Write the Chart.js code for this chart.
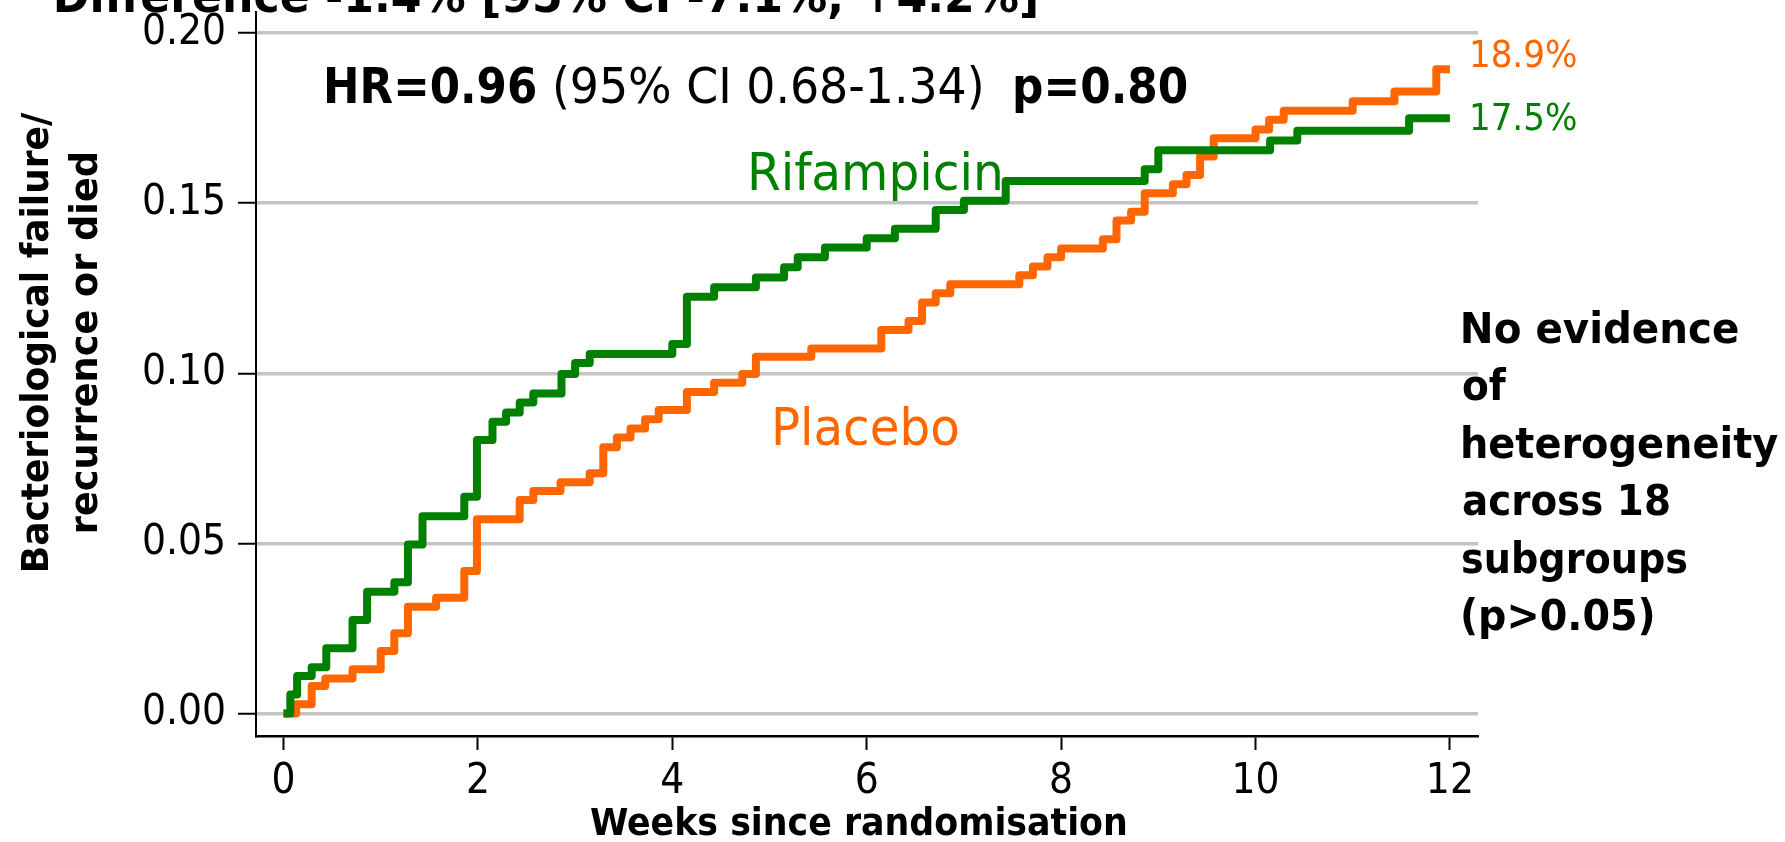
<!DOCTYPE html>
<html>
<head>
<meta charset="utf-8">
<title>Bacteriological failure by arm</title>
<script src="https://cdn.jsdelivr.net/npm/chart.js@4.4.1/dist/chart.umd.min.js"></script>
<style>
    html, body { margin: 0; padding: 0; background: #fff; }
    #wrap { width: 1785px; height: 842px; position: relative; }
</style>
</head>
<body>
<div id="wrap"><canvas id="kmChart"></canvas></div>
<script>
// Cumulative failure curves
const weekTicks = [0, 2, 4, 6, 8, 10, 12]
const riskTicks = [0, 0.05, 0.10, 0.15, 0.20]

const rifWeeks = [0, 0.07, 0.14, 0.29, 0.44, 0.71, 0.86, 1.14, 1.28, 1.43, 1.86, 1.99, 2.15, 2.29, 2.43, 2.57, 2.86, 3.0, 3.15, 4.0, 4.15, 4.43, 4.86, 5.15, 5.29, 5.57, 6.0, 6.29, 6.71, 7.0, 7.43, 8.86, 9.0, 10.15, 10.43, 11.58, 12]
const rifRisk = [0, 0.0056, 0.011, 0.0136, 0.0192, 0.0275, 0.0358, 0.0386, 0.0497, 0.058, 0.0637, 0.0804, 0.0858, 0.0885, 0.0914, 0.0941, 0.0998, 0.103, 0.1057, 0.1086, 0.1225, 0.1253, 0.1282, 0.1312, 0.1341, 0.137, 0.1397, 0.1425, 0.148, 0.1507, 0.1565, 0.16, 0.1656, 0.1684, 0.1713, 0.175, 0.175]

const placWeeks = [0, 0.13, 0.29, 0.43, 0.71, 1.0, 1.14, 1.28, 1.57, 1.86, 1.99, 2.43, 2.57, 2.85, 3.15, 3.29, 3.43, 3.57, 3.72, 3.86, 4.15, 4.43, 4.72, 4.86, 5.43, 6.15, 6.43, 6.57, 6.71, 6.86, 7.57, 7.71, 7.86, 8.0, 8.43, 8.57, 8.72, 8.86, 9.15, 9.29, 9.43, 9.57, 10.0, 10.14, 10.29, 11.0, 11.43, 11.86, 12]
const placRisk = [0, 0.0027, 0.0081, 0.0103, 0.013, 0.0184, 0.0236, 0.0314, 0.034, 0.0419, 0.0571, 0.0628, 0.0654, 0.068, 0.0706, 0.0783, 0.0811, 0.0838, 0.0865, 0.0892, 0.0945, 0.0972, 0.0998, 0.1049, 0.1073, 0.1127, 0.1154, 0.1208, 0.1235, 0.1262, 0.1288, 0.1314, 0.1341, 0.1367, 0.1394, 0.1449, 0.1475, 0.1529, 0.1556, 0.1583, 0.1637, 0.1691, 0.1717, 0.1745, 0.1772, 0.18, 0.1828, 0.1894, 0.1894]

const noteLines = ['No evidence', 'of', 'heterogeneity', 'across 18', 'subgroups', '(p>0.05)']

const GREEN = '#008000'
const ORANGE = '#ff6600'
const FONT = "'DejaVu Sans Condensed', 'DejaVu Sans', sans-serif"

Chart.defaults.font.family = FONT

function toPoints(xs, ys) {
    return xs.map((x, i) => ({ x: x, y: ys[i] }))
}

// draw text so its ink starts at (x, y) and spans the given width
function drawFitted(ctx, str, x, y, width, size, weight, color, angle) {
    ctx.save()
    ctx.font = `${weight} ${size}px ${FONT}`
    ctx.fillStyle = color
    ctx.textAlign = 'left'
    ctx.textBaseline = 'alphabetic'
    const m = ctx.measureText(str)
    const ink = m.actualBoundingBoxRight + m.actualBoundingBoxLeft
    ctx.translate(x, y)
    if (angle) ctx.rotate(angle)
    if (width) ctx.scale(width / ink, 1)
    ctx.fillText(str, m.actualBoundingBoxLeft, 0)
    ctx.restore()
}

const slideText = {
    id: 'slideText',
    afterDraw(chart) {
        const ctx = chart.ctx
        const xs = chart.scales.x
        const ys = chart.scales.y

        drawFitted(ctx, 'Difference -1.4% [95% CI -7.1%, +4.2%]', 56, 12, 980, 46, 'bold', '#000')

        drawFitted(ctx, 'HR=0.96', 327, 103, 208, 50, 'bold', '#000')
        drawFitted(ctx, '(95% CI 0.68-1.34)', 555, 103, 426, 50, 'normal', '#000')
        drawFitted(ctx, 'p=0.80', 1015, 103, 172, 50, 'bold', '#000')

        drawFitted(ctx, 'Rifampicin', xs.getPixelForValue(4.81), ys.getPixelForValue(0.1539), 249, 52, 'normal', GREEN)
        drawFitted(ctx, 'Placebo', xs.getPixelForValue(5.057), ys.getPixelForValue(0.0789), 183, 52, 'normal', ORANGE)

        // end-of-follow-up labels
        const endX = xs.getPixelForValue(weekTicks[weekTicks.length - 1]) + 22
        const placEnd = placRisk[placRisk.length - 1]
        const rifEnd = rifRisk[rifRisk.length - 1]
        drawFitted(ctx, (placEnd * 100).toFixed(1) + '%', endX, ys.getPixelForValue(placEnd) - 2, 104, 38, 'normal', ORANGE)
        drawFitted(ctx, (rifEnd * 100).toFixed(1) + '%', endX, ys.getPixelForValue(rifEnd) + 12, 104, 38, 'normal', GREEN)

        const noteWidths = [275, 44, 315, 206, 224, 190]
        noteLines.forEach((line, i) => {
            drawFitted(ctx, line, 1463, 343 + i * 57.4, noteWidths[i], 43, 'bold', '#000')
        })

        // axis titles
        drawFitted(ctx, 'Weeks since randomisation', 591, 835, 535, 37, 'bold', '#000')
        drawFitted(ctx, 'Bacteriological failure/', 48, 570, 458, 37, 'bold', '#000', -Math.PI / 2)
        drawFitted(ctx, 'recurrence or died', 97, 532, 379, 37, 'bold', '#000', -Math.PI / 2)
    }
}

const ctx = document.getElementById('kmChart').getContext('2d')

new Chart(ctx, {
    type: 'line',
    data: {
        datasets: [{
            label: 'Rifampicin',
            data: toPoints(rifWeeks, rifRisk),
            borderColor: GREEN,
            borderWidth: 8,
            stepped: true,
            pointRadius: 0,
            borderJoinStyle: 'round',
            fill: false
        }, {
            label: 'Placebo',
            data: toPoints(placWeeks, placRisk),
            borderColor: ORANGE,
            borderWidth: 8,
            stepped: true,
            pointRadius: 0,
            borderJoinStyle: 'round',
            fill: false
        }]
    },
    options: {
        responsive: true,
        maintainAspectRatio: false,
        animation: false,
        layout: { padding: { top: 12, right: 307, left: 0, bottom: 0 } },
        plugins: {
            legend: { display: false },
            tooltip: { enabled: false }
        },
        scales: {
            x: {
                type: 'linear',
                min: -0.283,
                max: 12.289,
                afterBuildTicks: scale => { scale.ticks = weekTicks.map(v => ({ value: v })) },
                afterFit: scale => {
                    scale.height = 106
                    scale.paddingLeft = 0
                    scale.paddingRight = 0
                },
                grid: { drawOnChartArea: false, drawTicks: true, tickLength: 14, tickColor: '#000', tickWidth: 2 },
                border: { display: true, color: '#000', width: 2.5 },
                ticks: { color: '#000', font: { size: 42 }, padding: 7, maxRotation: 0, autoSkip: false }
            },
            y: {
                type: 'linear',
                min: -0.0066,
                max: 0.2062,
                afterBuildTicks: scale => { scale.ticks = riskTicks.map(v => ({ value: v })) },
                afterFit: scale => {
                    scale.width = 256
                    scale.paddingTop = 0
                    scale.paddingBottom = 0
                },
                grid: { color: '#c4c4c4', lineWidth: 3.5, tickLength: 18, tickColor: '#000', tickWidth: 2 },
                border: { display: true, color: '#000', width: 2 },
                ticks: { color: '#000', font: { size: 42 }, padding: 12, callback: v => v.toFixed(2) }
            }
        }
    },
    plugins: [slideText]
})
</script>
</body>
</html>
